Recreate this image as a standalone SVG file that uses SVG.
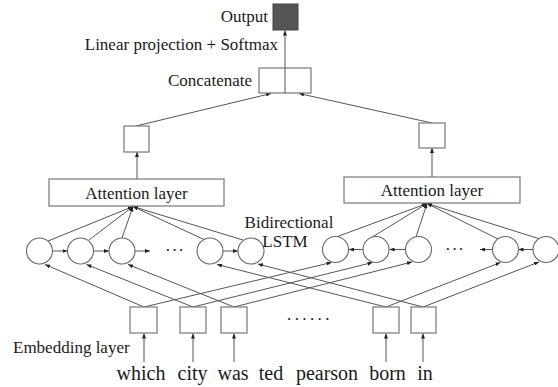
<svg xmlns="http://www.w3.org/2000/svg" width="558" height="387" viewBox="0 0 558 387">
<style>
  .lbl { font-family: 'Liberation Serif', 'DejaVu Serif', serif; font-size: 17px; fill: #1a1a1a; }
  .word { font-family: 'Liberation Serif', 'DejaVu Serif', serif; font-size: 20px; text-anchor: middle; fill: #1a1a1a; }
  .box { fill: #fff; stroke: #777; stroke-width: 1.2; }
  .cell { fill: #fff; stroke: #666; stroke-width: 1.1; }
  .ln { stroke: #555; stroke-width: 1; fill: none; }
  .arr { stroke: #555; stroke-width: 1; fill: none; marker-end: url(#ah); }
</style>
<defs>
  <marker id="ah" markerUnits="userSpaceOnUse" markerWidth="5" markerHeight="4" refX="5" refY="2" orient="auto">
    <path d="M0,0 L5,2 L0,4 z" fill="#222"/>
  </marker>
</defs>
<rect width="558" height="387" fill="#fff"/>

<g id="connectors">
  <line class="arr" x1="285" y1="93" x2="285" y2="30.5"/>
  <line class="arr" x1="136" y1="126" x2="271" y2="93.5"/>
  <line class="arr" x1="432" y1="123" x2="299" y2="93.5"/>
  <line class="arr" x1="137" y1="179" x2="137" y2="152"/>
  <line class="arr" x1="432" y1="177" x2="432" y2="148"/>
  <line class="arr" x1="48" y1="241" x2="133" y2="206.5"/>
  <line class="arr" x1="89" y1="240" x2="133" y2="206.5"/>
  <line class="arr" x1="122" y1="238" x2="133" y2="206.5"/>
  <line class="arr" x1="205" y1="240" x2="133" y2="206.5"/>
  <line class="arr" x1="243" y1="240" x2="133" y2="206.5"/>
  <line class="arr" x1="328" y1="240" x2="427" y2="203.5"/>
  <line class="arr" x1="369" y1="239" x2="427" y2="203.5"/>
  <line class="arr" x1="416" y1="237" x2="427" y2="203.5"/>
  <line class="arr" x1="498" y1="239" x2="427" y2="203.5"/>
  <line class="arr" x1="540" y1="239" x2="427" y2="203.5"/>
  <line class="arr" x1="52.5" y1="251" x2="67.5" y2="251"/>
  <line class="arr" x1="93.5" y1="251" x2="109" y2="251"/>
  <line class="arr" x1="135" y1="251" x2="150" y2="251"/>
  <line class="arr" x1="223" y1="251" x2="238" y2="251"/>
  <line class="arr" x1="363" y1="249.5" x2="349" y2="249.5"/>
  <line class="arr" x1="405.5" y1="249.5" x2="389.5" y2="249.5"/>
  <line class="arr" x1="492.5" y1="249.5" x2="480" y2="249.5"/>
  <line class="arr" x1="533" y1="249.5" x2="518.5" y2="249.5"/>
  <line class="arr" x1="144" y1="307" x2="45" y2="264.5"/>
  <line class="arr" x1="193" y1="307" x2="86.5" y2="264.5"/>
  <line class="arr" x1="234" y1="307" x2="128" y2="264.5"/>
  <line class="arr" x1="386" y1="307" x2="217" y2="264.5"/>
  <line class="arr" x1="423" y1="307" x2="258" y2="264"/>
  <line class="arr" x1="144" y1="307" x2="331.5" y2="262.5"/>
  <line class="arr" x1="193" y1="307" x2="372.5" y2="262.5"/>
  <line class="arr" x1="234" y1="307" x2="412" y2="262"/>
  <line class="arr" x1="386" y1="307" x2="500.5" y2="262.5"/>
  <line class="arr" x1="423" y1="307" x2="539" y2="262"/>
  <line class="arr" x1="144" y1="362" x2="144" y2="333.5"/>
  <line class="arr" x1="193" y1="362" x2="193" y2="333.5"/>
  <line class="arr" x1="234" y1="362" x2="234" y2="333.5"/>
  <line class="arr" x1="386" y1="362" x2="386" y2="333.5"/>
  <line class="arr" x1="423" y1="362" x2="423" y2="333.5"/>
</g>

<g id="output">
  <rect x="273" y="4" width="25" height="26" fill="#555" stroke="#444" stroke-width="1"/>
  <text class="lbl" x="268" y="22" text-anchor="end" font-family="Liberation Serif, DejaVu Serif, serif">Output</text>
</g>
<text class="lbl" x="278" y="50" text-anchor="end" font-family="Liberation Serif, DejaVu Serif, serif">Linear projection + Softmax</text>

<g id="concatenate">
  <rect class="box" x="259" y="68" width="52" height="25"/>
  <line class="ln" x1="285" y1="68" x2="285" y2="93"/>
  <text class="lbl" x="252" y="86" text-anchor="end" font-family="Liberation Serif, DejaVu Serif, serif">Concatenate</text>
</g>

<g id="left-vector"><rect class="box" x="124" y="126" width="25" height="26"/></g>
<g id="right-vector"><rect class="box" x="419" y="123" width="26" height="25"/></g>

<g id="left-attention">
  <rect class="box" x="49" y="179" width="175" height="27"/>
  <text class="lbl" x="136.5" y="198.5" text-anchor="middle" font-family="Liberation Serif, DejaVu Serif, serif">Attention layer</text>
</g>
<g id="right-attention">
  <rect class="box" x="344" y="177" width="176" height="26"/>
  <text class="lbl" x="432" y="196" text-anchor="middle" font-family="Liberation Serif, DejaVu Serif, serif">Attention layer</text>
</g>

<g id="left-lstm">
  <circle class="cell" cx="39.5" cy="251" r="13"/>
  <circle class="cell" cx="80.5" cy="251" r="13"/>
  <circle class="cell" cx="122" cy="251" r="13"/>
  <text class="lbl" x="175" y="256" text-anchor="middle" letter-spacing="1" font-family="Liberation Serif, DejaVu Serif, serif">···</text>
  <circle class="cell" cx="210" cy="251" r="13"/>
  <circle class="cell" cx="251" cy="251" r="13"/>
</g>
<g id="right-lstm">
  <circle class="cell" cx="335.5" cy="249.5" r="13"/>
  <circle class="cell" cx="376" cy="249.5" r="13"/>
  <circle class="cell" cx="418.5" cy="249.5" r="13"/>
  <text class="lbl" x="455" y="254.5" text-anchor="middle" letter-spacing="1" font-family="Liberation Serif, DejaVu Serif, serif">···</text>
  <circle class="cell" cx="505.5" cy="249.5" r="13"/>
  <circle class="cell" cx="546" cy="249.5" r="13"/>
</g>

<g id="bilstm-label">
  <text class="lbl" x="289" y="228" text-anchor="middle" font-family="Liberation Serif, DejaVu Serif, serif">Bidirectional</text>
  <text class="lbl" x="285" y="247" text-anchor="middle" font-family="Liberation Serif, DejaVu Serif, serif">LSTM</text>
</g>

<g id="embeddings">
  <rect class="box" x="130" y="307" width="27" height="26"/>
  <rect class="box" x="180" y="307" width="26" height="26"/>
  <rect class="box" x="221" y="307" width="26" height="26"/>
  <text class="lbl" x="287" y="320" letter-spacing="3.4" font-family="Liberation Serif, DejaVu Serif, serif">......</text>
  <rect class="box" x="373" y="307" width="26" height="26"/>
  <rect class="box" x="411" y="307" width="25" height="26"/>
  <text class="lbl" x="13" y="353" font-family="Liberation Serif, DejaVu Serif, serif">Embedding layer</text>
</g>

<g id="words" font-family="Liberation Serif, DejaVu Serif, serif">
  <text class="word" x="141" y="380">which</text>
  <text class="word" x="192.5" y="380">city</text>
  <text class="word" x="233" y="380">was</text>
  <text class="word" x="271" y="380">ted</text>
  <text class="word" x="327" y="380">pearson</text>
  <text class="word" x="387.5" y="380">born</text>
  <text class="word" x="425" y="380">in</text>
</g>
</svg>
